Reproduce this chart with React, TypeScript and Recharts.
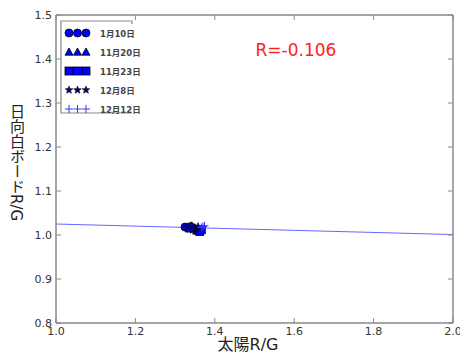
import React from "react";
import { ComposedChart, XAxis, YAxis, Scatter, Line, Customized } from "recharts";

const xTicks = [1.0, 1.2, 1.4, 1.6, 1.8, 2.0];
const yTicks = [0.8, 0.9, 1.0, 1.1, 1.2, 1.3, 1.4, 1.5];

const seriesNames = ["1月10日", "11月20日", "11月23日", "12月8日", "12月12日"];
const jan10 = [
  { x: 1.325, y: 1.018 },
  { x: 1.332, y: 1.016 },
  { x: 1.338, y: 1.019 },
];
const nov20 = [
  { x: 1.342, y: 1.021 },
  { x: 1.348, y: 1.017 },
  { x: 1.336, y: 1.014 },
];
const nov23 = [
  { x: 1.355, y: 1.011 },
  { x: 1.362, y: 1.008 },
  { x: 1.366, y: 1.012 },
];
const dec8 = [
  { x: 1.345, y: 1.012 },
  { x: 1.352, y: 1.015 },
  { x: 1.358, y: 1.018 },
];
const dec12 = [
  { x: 1.37, y: 1.019 },
  { x: 1.374, y: 1.021 },
  { x: 1.366, y: 1.017 },
];
const fitLine = [
  { x: 1.0, y: 1.025 },
  { x: 2.0, y: 1.001 },
];
const rText = "R=-0.106";

const FONT = "'DejaVu Sans', 'Noto Sans CJK JP', sans-serif";
const AX = "#888888";
const TXT = "#333333";

type MarkerKind = "circle" | "triangle" | "square" | "star" | "plus";

function marker(kind: MarkerKind, cx: number, cy: number, s: number, key?: string) {
  const r = s / 2;
  if (kind === "circle")
    return <circle key={key} cx={cx} cy={cy} r={r} fill="#0000ff" stroke="#000" strokeWidth={0.8} />;
  if (kind === "triangle")
    return (
      <polygon
        key={key}
        points={`${cx},${cy - r} ${cx + r},${cy + r * 0.8} ${cx - r},${cy + r * 0.8}`}
        fill="#0000ff"
        stroke="#000"
        strokeWidth={0.8}
      />
    );
  if (kind === "square")
    return <rect key={key} x={cx - r} y={cy - r} width={s} height={s} fill="#0000ff" stroke="#000" strokeWidth={0.8} />;
  if (kind === "star") {
    const pts: string[] = [];
    for (let i = 0; i < 10; i++) {
      const rr = i % 2 === 0 ? r : r * 0.42;
      const a = -Math.PI / 2 + (i * Math.PI) / 5;
      pts.push(`${cx + rr * Math.cos(a)},${cy + rr * Math.sin(a)}`);
    }
    return <polygon key={key} points={pts.join(" ")} fill="#000080" stroke="#000" strokeWidth={0.6} />;
  }
  return (
    <path
      key={key}
      d={`M${cx - r},${cy}H${cx + r}M${cx},${cy - r}V${cy + r}`}
      stroke="#3333ff"
      strokeWidth={1}
      fill="none"
    />
  );
}

const kinds: MarkerKind[] = ["circle", "triangle", "square", "star", "plus"];
const allSeries = [jan10, nov20, nov23, dec8, dec12];

const makeShape = (kind: MarkerKind) => (props: any) => {
  const { cx, cy } = props;
  if (cx == null || cy == null) return <g />;
  return marker(kind, cx, cy, kind === "star" ? 9 : 8);
};

const LeftTick = (props: any) => {
  const { x, y, payload } = props;
  return (
    <g>
      <line x1={x} y1={y} x2={x + 5} y2={y} stroke={AX} strokeWidth={1} />
      <text x={x - 4} y={y} dy={4} textAnchor="end" fontSize={11} fill={TXT} fontFamily={FONT}>
        {Number(payload.value).toFixed(1)}
      </text>
    </g>
  );
};
const RightTick = (props: any) => {
  const { x, y } = props;
  return <line x1={x} y1={y} x2={x - 5} y2={y} stroke={AX} strokeWidth={1} />;
};
const BottomTick = (props: any) => {
  const { x, y, payload } = props;
  return (
    <g>
      <line x1={x} y1={y} x2={x} y2={y - 5} stroke={AX} strokeWidth={1} />
      <text x={x} y={y} dy={12} textAnchor="middle" fontSize={11} fill={TXT} fontFamily={FONT}>
        {Number(payload.value).toFixed(1)}
      </text>
    </g>
  );
};
const TopTick = (props: any) => {
  const { x, y } = props;
  return <line x1={x} y1={y} x2={x} y2={y + 5} stroke={AX} strokeWidth={1} />;
};

const Overlay = () => {
  const rows = [33, 52, 71, 90, 109];
  return (
    <g>
      <path d="M132,24V21H61V113H132" fill="none" stroke={AX} strokeWidth={1.2} />
      {rows.map((ry, i) => (
        <g key={i}>
          {[69, 77.5, 86].map((mx, j) => marker(kinds[i], mx, ry, kinds[i] === "star" ? 8 : 8, `${i}-${j}`))}
          <text x={100} y={ry} dy={3.5} fontSize={8.5} fontWeight="bold" fill="#444" fontFamily={FONT}>
            {seriesNames[i]}
          </text>
        </g>
      ))}
      <text x={296} y={56} textAnchor="middle" fontSize={17} fill="#ff2020" fontFamily={FONT}>
        {rText}
      </text>
      <text x={248} y={350} textAnchor="middle" fontSize={16} fill="#222" fontFamily={FONT}>
        太陽R/G
      </text>
      <text
        x={16}
        y={104}
        fontSize={15}
        fill="#222"
        fontFamily={FONT}
        style={{ writingMode: "vertical-rl" } as any}
      >
        日向白ボードR/G
      </text>
    </g>
  );
};

export default function App() {
  return (
    <div style={{ position: "absolute", left: 0, top: 0, width: 460, height: 358, background: "#fff" }}>
      <ComposedChart width={460} height={358} margin={{ top: 14, right: 6, bottom: 34, left: 0 }}>
        <XAxis
          xAxisId="b"
          type="number"
          dataKey="x"
          domain={[1, 2]}
          ticks={xTicks}
          interval={0}
          height={1}
          tickSize={0}
          tickMargin={0}
          axisLine={{ stroke: AX, strokeWidth: 1.5 }}
          tickLine={false}
          tick={<BottomTick />}
          allowDataOverflow
        />
        <XAxis
          xAxisId="t"
          orientation="top"
          type="number"
          dataKey="x"
          domain={[1, 2]}
          ticks={xTicks}
          interval={0}
          height={1}
          tickSize={0}
          tickMargin={0}
          axisLine={{ stroke: AX, strokeWidth: 1.5 }}
          tickLine={false}
          tick={<TopTick />}
          allowDataOverflow
        />
        <YAxis
          yAxisId="l"
          type="number"
          dataKey="y"
          domain={[0.8, 1.5]}
          ticks={yTicks}
          interval={0}
          width={56}
          tickSize={0}
          tickMargin={0}
          axisLine={{ stroke: AX, strokeWidth: 1.5 }}
          tickLine={false}
          tick={<LeftTick />}
          allowDataOverflow
        />
        <YAxis
          yAxisId="r"
          orientation="right"
          type="number"
          dataKey="y"
          domain={[0.8, 1.5]}
          ticks={yTicks}
          interval={0}
          width={1}
          tickSize={0}
          tickMargin={0}
          axisLine={{ stroke: AX, strokeWidth: 1.5 }}
          tickLine={false}
          tick={<RightTick />}
          allowDataOverflow
        />
        <Line
          xAxisId="b"
          yAxisId="l"
          data={fitLine}
          dataKey="y"
          type="linear"
          stroke="#6666ff"
          strokeWidth={1}
          dot={false}
          activeDot={false}
          isAnimationActive={false}
        />
        {allSeries.map((d, i) => (
          <Scatter
            key={i}
            xAxisId="b"
            yAxisId="l"
            data={d}
            dataKey="y"
            shape={makeShape(kinds[i])}
            isAnimationActive={false}
          />
        ))}
        <Customized component={Overlay} />
      </ComposedChart>
    </div>
  );
}
